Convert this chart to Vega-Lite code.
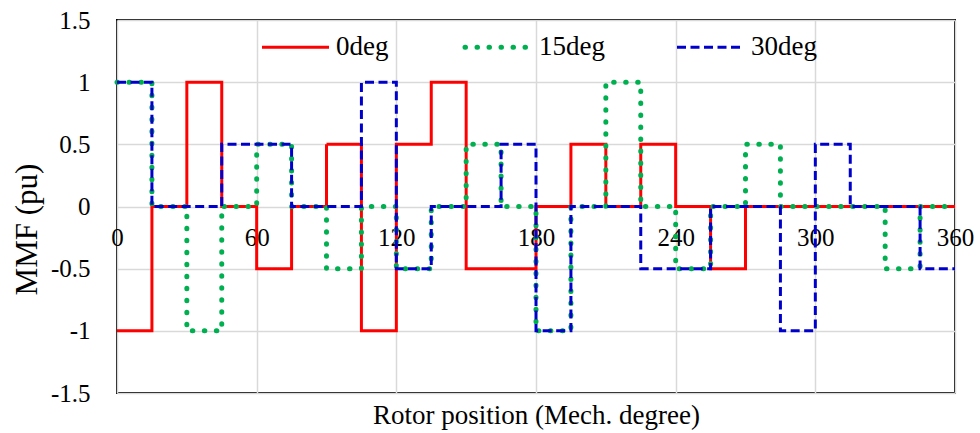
{
  "$schema": "https://vega.github.io/schema/vega-lite/v6.json",
  "width": 838,
  "height": 373,
  "autosize": {"type": "none"},
  "padding": {"left": 117, "top": 20, "right": 25, "bottom": 40},
  "background": "white",
  "config": {
    "view": {"stroke": "black", "strokeWidth": 2},
    "font": "Liberation Serif",
    "text": {"font": "Liberation Serif"},
    "axis": {
      "gridColor": "#D9D9D9",
      "gridWidth": 1.5,
      "domain": false,
      "ticks": false,
      "labelColor": "black",
      "titleColor": "black",
      "labelFont": "Liberation Serif",
      "titleFont": "Liberation Serif",
      "titleFontWeight": "normal"
    },
    "legend": {"labelFont": "Liberation Serif", "titleFont": "Liberation Serif"}
  },
  "data": {
    "values": [
      {"s": "0deg", "x": 0, "y": -1}, {"s": "0deg", "x": 15, "y": 0}, {"s": "0deg", "x": 30, "y": 1}, {"s": "0deg", "x": 45, "y": 0},
      {"s": "0deg", "x": 60, "y": -0.5}, {"s": "0deg", "x": 75, "y": 0}, {"s": "0deg", "x": 90, "y": 0.5}, {"s": "0deg", "x": 105, "y": -1},
      {"s": "0deg", "x": 120, "y": 0.5}, {"s": "0deg", "x": 135, "y": 1}, {"s": "0deg", "x": 150, "y": -0.5}, {"s": "0deg", "x": 180, "y": 0},
      {"s": "0deg", "x": 195, "y": 0.5}, {"s": "0deg", "x": 210, "y": 0}, {"s": "0deg", "x": 225, "y": 0.5}, {"s": "0deg", "x": 240, "y": 0},
      {"s": "0deg", "x": 255, "y": -0.5}, {"s": "0deg", "x": 270, "y": 0}, {"s": "0deg", "x": 360, "y": 0},
      {"s": "15deg", "x": 0, "y": 1}, {"s": "15deg", "x": 15, "y": 0}, {"s": "15deg", "x": 30, "y": -1}, {"s": "15deg", "x": 45, "y": 0},
      {"s": "15deg", "x": 60, "y": 0.5}, {"s": "15deg", "x": 75, "y": 0}, {"s": "15deg", "x": 90, "y": -0.5}, {"s": "15deg", "x": 105, "y": 0},
      {"s": "15deg", "x": 120, "y": -0.5}, {"s": "15deg", "x": 135, "y": 0}, {"s": "15deg", "x": 150, "y": 0.5}, {"s": "15deg", "x": 165, "y": 0},
      {"s": "15deg", "x": 180, "y": -1}, {"s": "15deg", "x": 195, "y": 0}, {"s": "15deg", "x": 210, "y": 1}, {"s": "15deg", "x": 225, "y": 0},
      {"s": "15deg", "x": 240, "y": -0.5}, {"s": "15deg", "x": 255, "y": 0}, {"s": "15deg", "x": 270, "y": 0.5}, {"s": "15deg", "x": 285, "y": 0},
      {"s": "15deg", "x": 330, "y": -0.5}, {"s": "15deg", "x": 345, "y": 0}, {"s": "15deg", "x": 360, "y": 0},
      {"s": "30deg", "x": 0, "y": 1}, {"s": "30deg", "x": 15, "y": 0}, {"s": "30deg", "x": 45, "y": 0.5}, {"s": "30deg", "x": 75, "y": 0},
      {"s": "30deg", "x": 105, "y": 1}, {"s": "30deg", "x": 120, "y": -0.5}, {"s": "30deg", "x": 135, "y": 0}, {"s": "30deg", "x": 165, "y": 0.5},
      {"s": "30deg", "x": 180, "y": -1}, {"s": "30deg", "x": 195, "y": 0}, {"s": "30deg", "x": 225, "y": -0.5}, {"s": "30deg", "x": 255, "y": 0},
      {"s": "30deg", "x": 285, "y": -1}, {"s": "30deg", "x": 300, "y": 0.5}, {"s": "30deg", "x": 315, "y": 0}, {"s": "30deg", "x": 345, "y": -0.5},
      {"s": "30deg", "x": 360, "y": -0.5}
    ]
  },
  "encoding": {
    "x": {
      "field": "x", "type": "quantitative",
      "scale": {"domain": [0, 360], "nice": false, "zero": false},
      "axis": {
        "values": [0, 60, 120, 180, 240, 300, 360],
        "title": "Rotor position (Mech. degree)",
        "labelFont": "Liberation Serif", "titleFont": "Liberation Serif",
        "labelFontSize": 25, "titleFontSize": 27,
        "offset": -187,
        "labelBaseline": "alphabetic", "labelPadding": 39,
        "labelFlush": false, "labelBound": false, "labelOverlap": false,
        "titleBaseline": "alphabetic", "titleY": 217,
        "zindex": 0
      }
    },
    "y": {
      "field": "y", "type": "quantitative",
      "scale": {"domain": [-1.5, 1.5], "nice": false},
      "axis": {
        "values": [-1.5, -1, -0.5, 0, 0.5, 1, 1.5],
        "labelExpr": "'' + datum.value",
        "title": "MMF (pu)",
        "labelFont": "Liberation Serif", "titleFont": "Liberation Serif",
        "labelFontSize": 25, "titleFontSize": 31,
        "labelPadding": 27,
        "titleX": -90, "titleY": 209, "titleBaseline": "middle", "titleAngle": -90,
        "zindex": 0
      }
    },
    "color": {
      "field": "s", "type": "nominal",
      "scale": {"domain": ["0deg", "15deg", "30deg"], "range": ["#FF0000", "#00B050", "#0000CC"]},
      "legend": {
        "title": null, "orient": "none", "legendX": 165, "legendY": 13.5,
        "direction": "horizontal", "symbolType": "stroke", "symbolSize": 4489,
        "labelFont": "Liberation Serif",
        "labelFontSize": 27, "labelOffset": 27, "columnPadding": 66, "padding": 0,
        "labelColor": "black",
        "encode": {"symbols": {"update": {
          "strokeCap": {"signal": "datum.value === '15deg' ? 'round' : 'butt'"},
          "strokeWidth": {"signal": "datum.value === '15deg' ? 5 : 3"}
        }}}
      }
    },
    "strokeDash": {
      "field": "s", "type": "nominal",
      "scale": {"domain": ["0deg", "15deg", "30deg"], "range": [[1, 0], [0.5, 11.5], [9, 4.5]]},
      "legend": {"title": null}
    }
  },
  "layer": [
    {"transform": [{"filter": "datum.s === '0deg'"}], "mark": {"type": "line", "interpolate": "step-after", "strokeWidth": 3}},
    {"transform": [{"filter": "datum.s === '15deg'"}], "mark": {"type": "line", "interpolate": "step-after", "strokeWidth": 5, "strokeCap": "round"}},
    {"transform": [{"filter": "datum.s === '30deg'"}], "mark": {"type": "line", "interpolate": "step-after", "strokeWidth": 3}}
  ]
}
